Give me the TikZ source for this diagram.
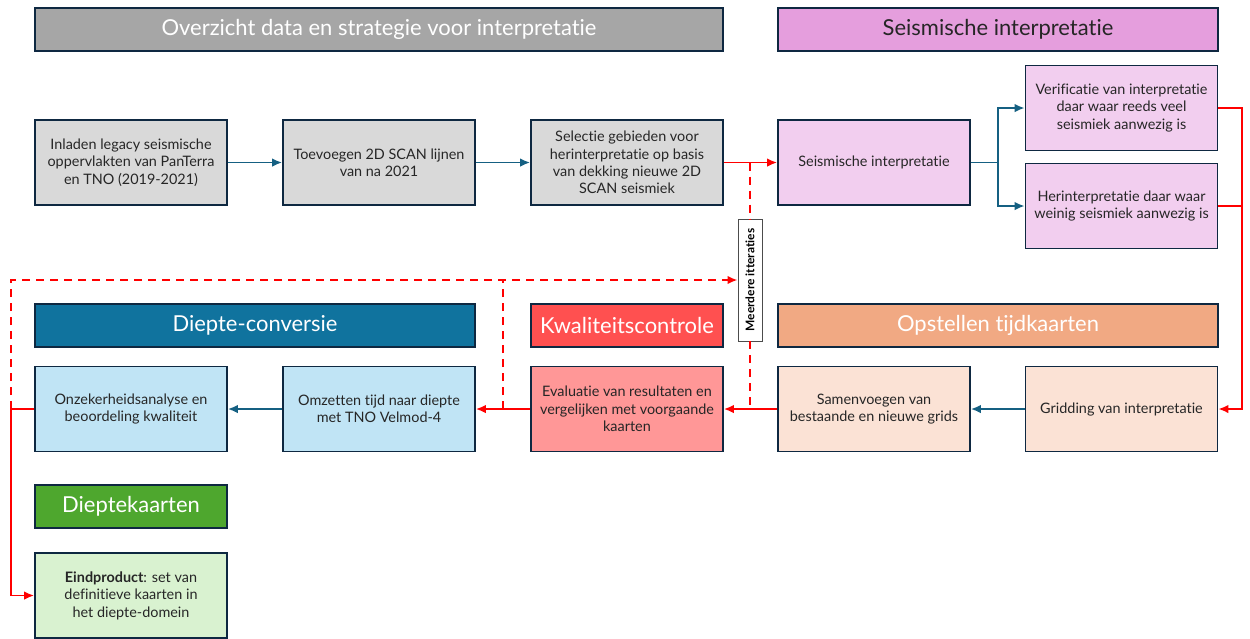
\documentclass[tikz,border=0pt]{standalone}
\usepackage{fontspec}
\setmainfont{Lato}[Ligatures={NoCommon}]
\usepackage{xcolor}
\usepackage{tikz}
\usetikzlibrary{positioning,arrows.meta,calc}

\definecolor{rand}{HTML}{0E2841}
\definecolor{pijlblauw}{HTML}{156082}
\definecolor{grijskop}{HTML}{A6A6A6}
\definecolor{grijsvak}{HTML}{D9D9D9}
\definecolor{paarskop}{HTML}{E59EDD}
\definecolor{paarsvak}{HTML}{F2CEEF}
\definecolor{blauwkop}{HTML}{10739E}
\definecolor{blauwvak}{HTML}{C0E4F5}
\definecolor{roodkop}{HTML}{FF5050}
\definecolor{roodvak}{HTML}{FF9797}
\definecolor{oranjekop}{HTML}{F1A983}
\definecolor{oranjevak}{HTML}{FBE2D5}
\definecolor{groenkop}{HTML}{4EA72E}
\definecolor{groenvak}{HTML}{D9F2D0}

\begin{document}
\begin{tikzpicture}[x=0.2mm, y=-0.2mm,
  vak/.style={draw=rand, minimum width=38.4mm, minimum height=17mm, align=center,
              line width=0.9pt, inner sep=0pt, text=black!85,
              font=\fontsize{8.2}{9.9}\selectfont},
  kop/.style={draw=rand, minimum height=8.6mm, align=center, line width=0.9pt,
              inner sep=0pt, text=white, font=\fontsize{12.5}{15}\selectfont},
  grijs/.style={vak, fill=grijsvak},
  paars/.style={vak, fill=paarsvak},
  blauw/.style={vak, fill=blauwvak},
  rood/.style={vak, fill=roodvak},
  oranje/.style={vak, fill=oranjevak},
  groen/.style={vak, fill=groenvak},
  blauwpijl/.style={draw=pijlblauw, line width=1.1pt, -{Latex[length=2mm,width=1.7mm]}},
  roodpijl/.style={draw=red, line width=1.1pt, -{Latex[length=2mm,width=1.7mm]}},
  roodlijn/.style={draw=red, line width=1.1pt},
  itlijn/.style={draw=red, line width=1.1pt, dash pattern=on 1.6mm off 1.2mm},
]
\useasboundingbox[fill=white] (0,0) rectangle (1250,638);

% kopjes
\node[kop, fill=grijskop, minimum width=137.6mm] (kOver) at (379,29.5) {Overzicht data en strategie voor interpretatie};
\node[kop, fill=paarskop, minimum width=88mm, text=black!85] (kSeis) at (998,29.5) {Seismische interpretatie};
\node[kop, fill=blauwkop, minimum width=88mm] (kDiep) at (255,325.5) {Diepte-conversie};
\node[kop, fill=roodkop, minimum width=38.4mm] (kKwal) at (627,325.5) {Kwaliteitscontrole};
\node[kop, fill=oranjekop, minimum width=88mm] (kTijd) at (998,325.5) {Opstellen tijdkaarten};
\node[kop, fill=groenkop, minimum width=38.4mm] (kKaart) at (131,506.5) {Dieptekaarten};

% bovenste rij
\node[grijs] (inlad) at (131,162.5) {Inladen legacy seismische\\oppervlakten van PanTerra\\en TNO (2019-2021)};
\node[grijs] (toev)  at (379,162.5) {Toevoegen 2D SCAN lijnen\\van na 2021};
\node[grijs] (sel)   at (627,162.5) {Selectie gebieden voor\\herinterpretatie op basis\\van dekking nieuwe 2D\\SCAN seismiek};
\node[paars] (seis)  at (874,162.5) {Seismische interpretatie};
\node[paars] (verif) at (1121.5,108) {Verificatie van interpretatie\\daar waar reeds veel\\seismiek aanwezig is};
\node[paars] (herin) at (1121.5,206) {Herinterpretatie daar waar\\weinig seismiek aanwezig is};

% onderste rij
\node[blauw]  (onzek) at (131,409) {Onzekerheidsanalyse en\\beoordeling kwaliteit};
\node[blauw]  (omzet) at (379,409) {Omzetten tijd naar diepte\\met TNO Velmod-4};
\node[rood]   (eval)  at (627,409) {Evaluatie van resultaten en\\vergelijken met voorgaande\\kaarten};
\node[oranje] (samen) at (874,409) {Samenvoegen van\\bestaande en nieuwe grids};
\node[oranje] (grid)  at (1121.5,409) {Gridding van interpretatie};
\node[groen]  (eind)  at (131,595.5) {\textbf{Eindproduct}: set van\\definitieve kaarten in\\het diepte-domein};

% iteraties
\node[draw=black!70, fill=white, line width=0.5pt, rotate=90, minimum width=24.4mm,
      minimum height=4.8mm, inner sep=0pt, font=\bfseries\fontsize{6.8}{7}\selectfont]
      (iter) at (750,280) {Meerdere itteraties};
\coordinate (links) at (11,280);
\coordinate (rechts) at (1242,162.5);
\coordinate (tak) at ($(seis.east)!.5!(seis.east -| verif.west)$);
\coordinate (tus) at ($(omzet.east)!.5!(eval.west)$);

\draw[blauwpijl] (inlad) -- (toev);
\draw[blauwpijl] (toev) -- (sel);
\draw[roodpijl] (sel) -- (seis);
\draw[blauwpijl] (seis.east) -- (tak) |- (verif.west);
\draw[blauwpijl] (tak) |- (herin.west);
\draw[roodlijn] (herin.east) -| (rechts);
\draw[roodpijl] (verif.east) -| (rechts) |- (grid.east);
\draw[blauwpijl] (grid) -- (samen);
\draw[roodpijl] (samen) -- (eval);
\draw[roodpijl] (eval) -- (omzet);
\draw[blauwpijl] (omzet) -- (onzek);
\draw[roodpijl] (onzek.west) -- (onzek.west -| links) |- (eind.west);

\draw[itlijn] (iter |- sel) -- (iter.east);
\draw[itlijn] (iter.west) -- (iter |- samen);
\draw[itlijn] (tus) -- (tus |- links);
\draw[itlijn, -{Latex[length=2mm,width=1.7mm]}] (links |- onzek) -- (links) -- (iter.north);
\end{tikzpicture}
\end{document}
